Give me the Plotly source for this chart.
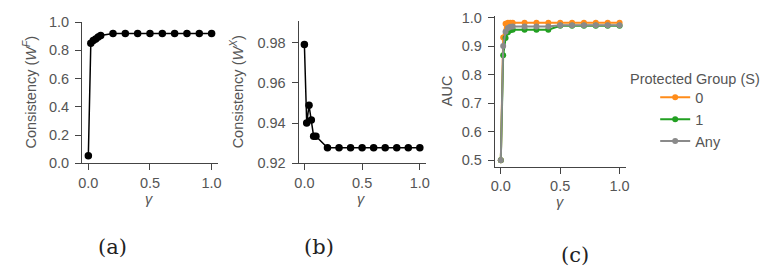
import plotly.graph_objects as go

W, H = 774, 273

gamma = [0, 0.02, 0.04, 0.06, 0.08, 0.1, 0.2, 0.3, 0.4, 0.5, 0.6, 0.7, 0.8, 0.9, 1.0]
cons_wf = [0.053, 0.85, 0.87, 0.88, 0.895, 0.905, 0.92, 0.92, 0.92, 0.92, 0.92, 0.92, 0.92, 0.92, 0.92]
cons_wx = [0.979, 0.940, 0.9488, 0.9415, 0.9335, 0.9335, 0.9277, 0.9277, 0.9277, 0.9277,
           0.9277, 0.9277, 0.9277, 0.9277, 0.9277]
auc_s0 = [0.50, 0.93, 0.978, 0.981, 0.981, 0.981, 0.981, 0.981, 0.981, 0.981, 0.981, 0.981, 0.981, 0.981, 0.981]
auc_s1 = [0.50, 0.868, 0.928, 0.948, 0.955, 0.957, 0.957, 0.957, 0.957, 0.971, 0.971, 0.971, 0.971, 0.971, 0.971]
auc_any = [0.50, 0.90, 0.95, 0.963, 0.967, 0.968, 0.968, 0.968, 0.968, 0.973, 0.973, 0.973, 0.973, 0.973, 0.973]
group_names = ["0", "1", "Any"]
group_colors = ["#ff8c1a", "#22a022", "#8a8a8a"]

FONT = "Liberation Sans, Arial, sans-serif"
TXT = "#555555"
AX = "#444444"
FS = 14.5


def px_x(a, b):
    return [a / W, b / W]


def px_y(top, bottom):
    return [(H - bottom) / H, (H - top) / H]


fig = go.Figure()

# (a)
fig.add_trace(go.Scatter(x=gamma, y=cons_wf, mode="lines+markers", xaxis="x", yaxis="y",
                         line=dict(color="black", width=1.5),
                         marker=dict(color="black", size=7.5), showlegend=False))
# (b)
fig.add_trace(go.Scatter(x=gamma, y=cons_wx, mode="lines+markers", xaxis="x2", yaxis="y2",
                         line=dict(color="black", width=1.5),
                         marker=dict(color="black", size=7.5), showlegend=False))
# (c)
for name, vals, col in zip(group_names, [auc_s0, auc_s1, auc_any], group_colors):
    fig.add_trace(go.Scatter(x=gamma, y=vals, mode="lines+markers", xaxis="x3", yaxis="y3",
                             name=name, legendgroup=name,
                             line=dict(color=col, width=2),
                             marker=dict(color=col, size=6)))

axis_common = dict(showline=True, linecolor=AX, linewidth=1.2, ticks="outside", ticklen=6,
                   tickwidth=1.2, tickcolor=AX, showgrid=False, zeroline=False,
                   tickfont=dict(family=FONT, size=FS, color=TXT))

xt = dict(tickvals=[0, 0.5, 1.0], ticktext=["0.0", "0.5", "1.0"], range=[-0.05, 1.05])

fig.update_layout(
    width=W, height=H, margin=dict(l=0, r=0, t=0, b=0),
    paper_bgcolor="white", plot_bgcolor="white",
    xaxis=dict(domain=px_x(79, 216), anchor="y", **xt, **axis_common),
    yaxis=dict(domain=px_y(15, 165), anchor="x", range=[0, 1.0],
               tickvals=[0, 0.2, 0.4, 0.6, 0.8, 1.0],
               ticktext=["0.0", "0.2", "0.4", "0.6", "0.8", "1.0"], ticklabelstandoff=3, **axis_common),
    xaxis2=dict(domain=px_x(297.7, 426), anchor="y2", **xt, **axis_common),
    yaxis2=dict(domain=px_y(14, 165), anchor="x2", range=[0.92, 0.9906],
                tickvals=[0.92, 0.94, 0.96, 0.98],
                ticktext=["0.92", "0.94", "0.96", "0.98"], ticklabelstandoff=3, **axis_common),
    xaxis3=dict(domain=px_x(496, 628), anchor="y3", **xt, **axis_common),
    yaxis3=dict(domain=px_y(8.8, 168.5), anchor="x3", range=[0.478, 1.004],
                tickvals=[0.5, 0.6, 0.7, 0.8, 0.9, 1.0],
                ticktext=["0.5", "0.6", "0.7", "0.8", "0.9", "1.0"], ticklabelstandoff=3, **axis_common),
    legend=dict(x=658 / W, xanchor="left", y=(H - 78) / H, yanchor="top",
                font=dict(family=FONT, size=FS, color=TXT), tracegroupgap=0,
                bgcolor="rgba(0,0,0,0)"),
)

ann = []


def add_text(text, x, y, size=FS, angle=0, family=FONT, color=TXT):
    ann.append(dict(text=text, x=x / W, y=(H - y) / H, xref="paper", yref="paper",
                    showarrow=False, xanchor="center", yanchor="middle", textangle=angle,
                    font=dict(family=family, size=size, color=color)))


add_text("Consistency (<i>W</i><sup><i>F</i></sup>)", 26, 89, angle=-90)
add_text("Consistency (<i>W</i><sup><i>X</i></sup>)", 235, 89, angle=-90)
add_text("AUC", 447, 88, angle=-90)
add_text("<i>γ</i>", 147, 203)
add_text("<i>γ</i>", 361, 203)
add_text("<i>γ</i>", 562, 206)
add_text("Protected Group (S)", 698, 75)
add_text("(a)", 110, 254, size=21, family="DejaVu Serif, serif", color="#222222")
add_text("(b)", 318, 254, size=21, family="DejaVu Serif, serif", color="#222222")
add_text("(c)", 577, 262, size=21, family="DejaVu Serif, serif", color="#222222")
fig.update_layout(annotations=ann)

fig.write_html("out.html")
